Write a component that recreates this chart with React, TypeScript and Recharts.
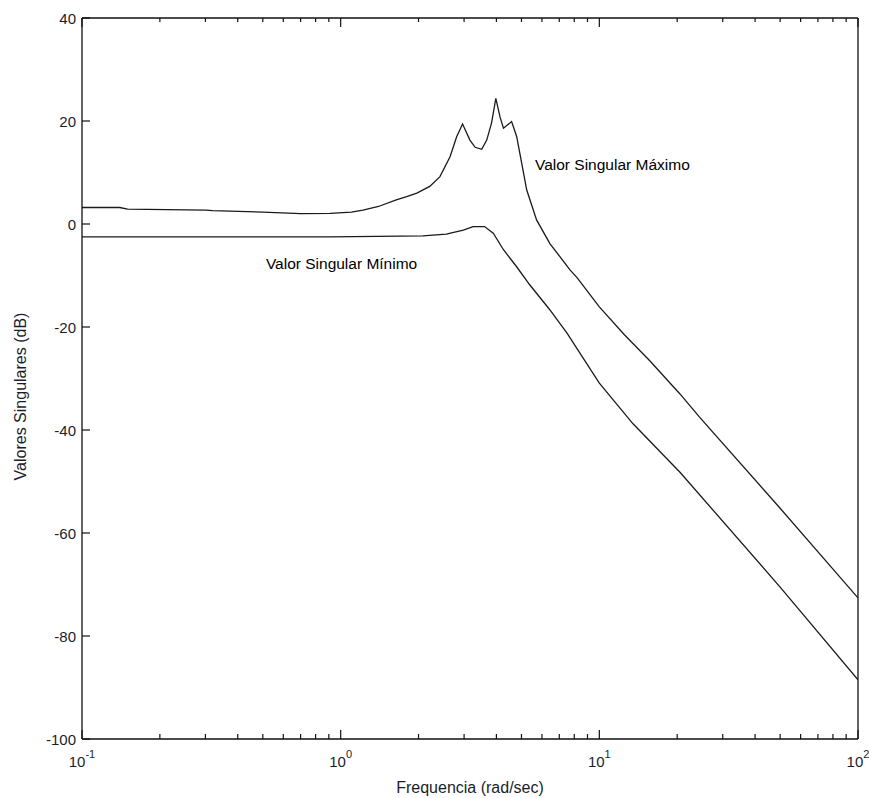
import { LineChart, Line, XAxis, YAxis, ReferenceDot } from "recharts";

// Maximum singular value (dB) vs frequency (rad/sec)
const FREQ_MAX = [
  0.1, 0.14, 0.15, 0.3, 0.32, 0.5, 0.7, 0.91, 1.1, 1.22, 1.4, 1.64, 1.8, 1.97, 2.21, 2.42, 2.65, 2.81, 2.96, 3.16,
  3.31, 3.51, 3.67, 3.83, 3.98, 4.13, 4.26, 4.58, 4.79, 5.01, 5.24, 5.72, 6.44, 7.7, 8.2, 10, 12.5, 15.7, 20.5,
  24.4, 50, 100,
];
const SV_MAX = [
  3.2, 3.2, 2.9, 2.7, 2.6, 2.3, 2.0, 2.05, 2.3, 2.7, 3.4, 4.7, 5.3, 6.0, 7.3, 9.2, 13.1, 17.0, 19.4, 16.3,
  14.9, 14.5, 16.3, 19.6, 24.4, 20.8, 18.6, 19.9, 17.0, 11.8, 6.6, 0.8, -3.8, -8.9, -10.4, -16.1, -21.5, -26.6, -33.0,
  -37.5, -55.2, -72.6,
];

// Minimum singular value (dB)
const FREQ_MIN = [0.1, 0.91, 2.08, 2.56, 2.98, 3.25, 3.6, 3.89, 4.26, 4.79, 5.38, 6.4, 7.5, 10, 13.5, 20.5, 50, 100];
const SV_MIN = [-2.5, -2.5, -2.3, -1.95, -1.2, -0.5, -0.5, -1.8, -5.0, -8.3, -11.8, -16.5, -21.2, -30.9, -38.8, -48.2, -70.5, -88.5];

const X_MAJOR = [0.1, 1, 10, 100];
const X_EXP = ["-1", "0", "1", "2"];
const X_MINOR = [0.1, 1, 10].flatMap((d) => [2, 3, 4, 5, 6, 7, 8, 9].map((m) => +(d * m).toPrecision(3)));
const X_TICKS = [...X_MAJOR, ...X_MINOR].sort((a, b) => a - b);
const Y_TICKS = [-100, -80, -60, -40, -20, 0, 20, 40];

const INK = "#111";
const LABEL_INK = "#1a1e2c";
const FONT = "'Liberation Sans', Arial, sans-serif";

const maxData = FREQ_MAX.map((f, i) => ({ f, db: SV_MAX[i] }));
const minData = FREQ_MIN.map((f, i) => ({ f, db: SV_MIN[i] }));

function BottomTick(props: any) {
  const { x, y, payload } = props;
  const idx = X_MAJOR.indexOf(payload.value);
  const major = idx >= 0;
  return (
    <g>
      <line x1={x} x2={x} y1={y} y2={y - (major ? 9 : 5)} stroke={INK} strokeWidth={1.2} />
      {major && (
        <text x={x} y={y + 28} textAnchor="middle" fontFamily={FONT} fontSize={15} fill={LABEL_INK}>
          <tspan>10</tspan>
          <tspan dy={-9} fontSize={11}>{X_EXP[idx]}</tspan>
        </text>
      )}
    </g>
  );
}

function TopTick(props: any) {
  const { x, y, payload } = props;
  const major = X_MAJOR.includes(payload.value);
  return <line x1={x} x2={x} y1={y} y2={y + (major ? 9 : 4)} stroke={INK} strokeWidth={1.2} />;
}

function LeftTick(props: any) {
  const { x, y, payload } = props;
  return (
    <g>
      <line x1={x} x2={x + 8} y1={y} y2={y} stroke={INK} strokeWidth={1.2} />
      <text x={x - 6} y={y} textAnchor="end" dominantBaseline="central" fontFamily={FONT} fontSize={15} fill={LABEL_INK}>
        {payload.value}
      </text>
    </g>
  );
}

function RightTick(props: any) {
  const { x, y } = props;
  return <line x1={x} x2={x - 9} y1={y} y2={y} stroke={INK} strokeWidth={1.2} />;
}

function Note({ viewBox, text }: any) {
  return (
    <text x={viewBox.x} y={viewBox.y} dominantBaseline="central" fontFamily={FONT} fontSize={15.5} fill="#000">
      {text}
    </text>
  );
}

export default function App() {
  return (
    <div style={{ position: "absolute", left: 0, top: 0, background: "#fff" }}>
      <LineChart width={869} height={798} margin={{ top: 17, right: 10, bottom: 0, left: 0 }}>
        <XAxis
          xAxisId="bottom"
          dataKey="f"
          type="number"
          scale="log"
          domain={[0.1, 100]}
          allowDataOverflow
          ticks={X_TICKS}
          interval={0}
          height={59}
          tickSize={0}
          tickMargin={0}
          tickLine={false}
          tick={<BottomTick />}
          axisLine={{ stroke: INK, strokeWidth: 1.3 }}
          label={(p: any) => (
            <text
              x={p.viewBox.x + p.viewBox.width / 2}
              y={p.viewBox.y + 48}
              textAnchor="middle"
              dominantBaseline="central"
              fontFamily={FONT}
              fontSize={16}
              fill={LABEL_INK}
            >
              Frequencia (rad/sec)
            </text>
          )}
        />
        <XAxis
          xAxisId="top"
          orientation="top"
          dataKey="f"
          type="number"
          scale="log"
          domain={[0.1, 100]}
          allowDataOverflow
          ticks={X_TICKS}
          interval={0}
          height={1}
          tickSize={0}
          tickMargin={0}
          tickLine={false}
          tick={<TopTick />}
          axisLine={{ stroke: INK, strokeWidth: 1.3 }}
        />
        <YAxis
          yAxisId="left"
          type="number"
          domain={[-100, 40]}
          ticks={Y_TICKS}
          interval={0}
          width={82}
          tickSize={0}
          tickMargin={0}
          tickLine={false}
          tick={<LeftTick />}
          axisLine={{ stroke: INK, strokeWidth: 1.3 }}
          label={(p: any) => (
            <text
              x={p.viewBox.x + 20}
              y={p.viewBox.y + p.viewBox.height / 2 + 18}
              textAnchor="middle"
              dominantBaseline="central"
              transform={`rotate(-90, ${p.viewBox.x + 20}, ${p.viewBox.y + p.viewBox.height / 2 + 18})`}
              fontFamily={FONT}
              fontSize={16}
              fill={LABEL_INK}
            >
              Valores Singulares (dB)
            </text>
          )}
        />
        <YAxis
          yAxisId="right"
          orientation="right"
          type="number"
          domain={[-100, 40]}
          ticks={Y_TICKS}
          interval={0}
          width={1}
          tickSize={0}
          tickMargin={0}
          tickLine={false}
          tick={<RightTick />}
          axisLine={{ stroke: INK, strokeWidth: 1.3 }}
        />
        <Line
          xAxisId="bottom"
          yAxisId="left"
          data={maxData}
          dataKey="db"
          type="linear"
          stroke="#1a1a1a"
          strokeWidth={1.3}
          dot={false}
          isAnimationActive={false}
        />
        <Line
          xAxisId="bottom"
          yAxisId="left"
          data={minData}
          dataKey="db"
          type="linear"
          stroke="#1a1a1a"
          strokeWidth={1.3}
          dot={false}
          isAnimationActive={false}
        />
        <ReferenceDot
          xAxisId="bottom"
          yAxisId="left"
          x={5.64}
          y={11.5}
          r={0}
          stroke="none"
          label={(p: any) => <Note viewBox={p.viewBox} text="Valor Singular Máximo" />}
        />
        <ReferenceDot
          xAxisId="bottom"
          yAxisId="left"
          x={0.514}
          y={-7.6}
          r={0}
          stroke="none"
          label={(p: any) => <Note viewBox={p.viewBox} text="Valor Singular Mínimo" />}
        />
      </LineChart>
    </div>
  );
}
